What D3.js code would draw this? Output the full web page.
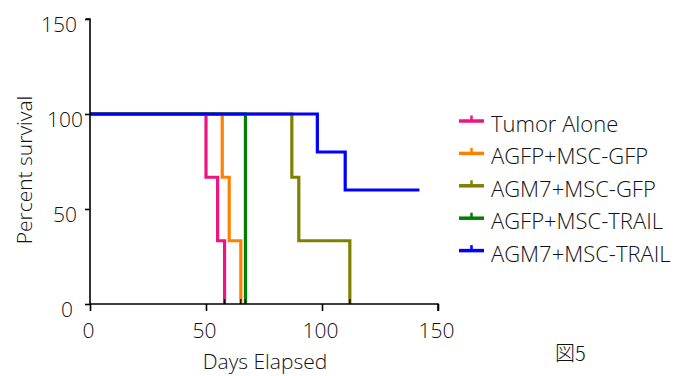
<!DOCTYPE html>
<html><head><meta charset="utf-8">
<script src="https://cdn.jsdelivr.net/npm/d3@7"></script>
<style>
body{margin:0;background:#fff;}
svg text{font-family:"Open Sans","Noto Sans",sans-serif;fill:#111;font-weight:300;}
</style></head>
<body><svg id="c" width="686" height="376"></svg>
<script>
const seriesNames = ["Tumor Alone","AGFP+MSC-GFP","AGM7+MSC-GFP","AGFP+MSC-TRAIL","AGM7+MSC-TRAIL"];
const seriesColors = ["#f0147f","#ff8000","#808000","#008000","#0000ff"];
const tumorAlone = [[0,100],[50,66.7],[55,33.3],[58,0]];
const agfpGfp = [[0,100],[57,66.7],[60,33.3],[65,0]];
const agm7Gfp = [[0,100],[87,66.7],[90,33.3],[112,0]];
const agfpTrail = [[0,100],[67,0]];
const agm7Trail = [[0,100],[98,80],[110,60],[142,60]];
const seriesData = [tumorAlone, agfpGfp, agm7Gfp, agfpTrail, agm7Trail];
const xTicks = [0,50,100,150];
const yTicks = [0,50,100,150];

const svg = d3.select("#c");
const x = d3.scaleLinear().domain([0,150]).range([90,438]);
const y = d3.scaleLinear().domain([0,150]).range([304,19]);

const line = d3.line().x(d=>x(d[0])).y(d=>y(d[1])).curve(d3.curveStepAfter);
[0,1,2,3,4].forEach(i=>{
  svg.append("path").attr("d", line(seriesData[i])).attr("fill","none")
    .attr("stroke", seriesColors[i]).attr("stroke-width",3.2).attr("stroke-linejoin","miter");
});

// axes
const fs = 21;
const xAxis = svg.append("g").attr("transform","translate(0,304)")
  .call(d3.axisBottom(x).tickValues(xTicks).tickSize(7).tickPadding(12));
const yAxis = svg.append("g").attr("transform","translate(90,0)")
  .call(d3.axisLeft(y).tickValues(yTicks).tickSize(5).tickPadding(10));
[xAxis,yAxis].forEach(g=>{
  g.select(".domain").attr("stroke","#000").attr("stroke-width",1.6);
  g.selectAll(".tick line").attr("stroke","#000").attr("stroke-width",1.6);
  g.selectAll(".tick text").style("font-size",fs+"px").attr("fill","#111");
});
const yLabelShift = {0:-2, 50:2, 100:8, 150:2};
yAxis.selectAll(".tick text").attr("dy","0.6em").attr("dx",d=>yLabelShift[d]);
xAxis.selectAll(".tick text").attr("dx",-2);
yAxis.select(".domain").attr("d","M-4,19H0V304");
xAxis.select(".domain").attr("d","M90,0H438V7");

// end ticks on x axis
seriesData.forEach(s=>{
  const last = s[s.length-1];
  if(last[1]===0){
    svg.append("line").attr("x1",x(last[0])).attr("x2",x(last[0]))
      .attr("y1",y(0)).attr("y2",y(0)-5).attr("stroke","#000").attr("stroke-width",1.3);
  }
});

// axis titles
svg.append("text").attr("x",265).attr("y",369).attr("text-anchor","middle")
  .style("font-size",fs+"px").text("Days Elapsed");
svg.append("text").attr("transform","translate(32,170) rotate(-90)").attr("text-anchor","middle")
  .style("font-size",fs+"px").text("Percent survival");

// legend
const lg = svg.append("g");
seriesNames.forEach((n,i)=>{
  const ly = 121 + i*32.4;
  lg.append("line").attr("x1",459).attr("x2",484).attr("y1",ly).attr("y2",ly)
    .attr("stroke",seriesColors[i]).attr("stroke-width",3.5);
  lg.append("line").attr("x1",471.5).attr("x2",471.5).attr("y1",ly).attr("y2",ly-5.5)
    .attr("stroke",seriesColors[i]).attr("stroke-width",2.5);
  lg.append("text").attr("x",491).attr("y",ly+11).style("font-size","22px").text(n);
});

svg.append("text").attr("x",555).attr("y",361)
  .style("font-family",'"Noto Sans CJK JP","Open Sans",sans-serif').style("font-size","20px").text("図5");
</script></body></html>
